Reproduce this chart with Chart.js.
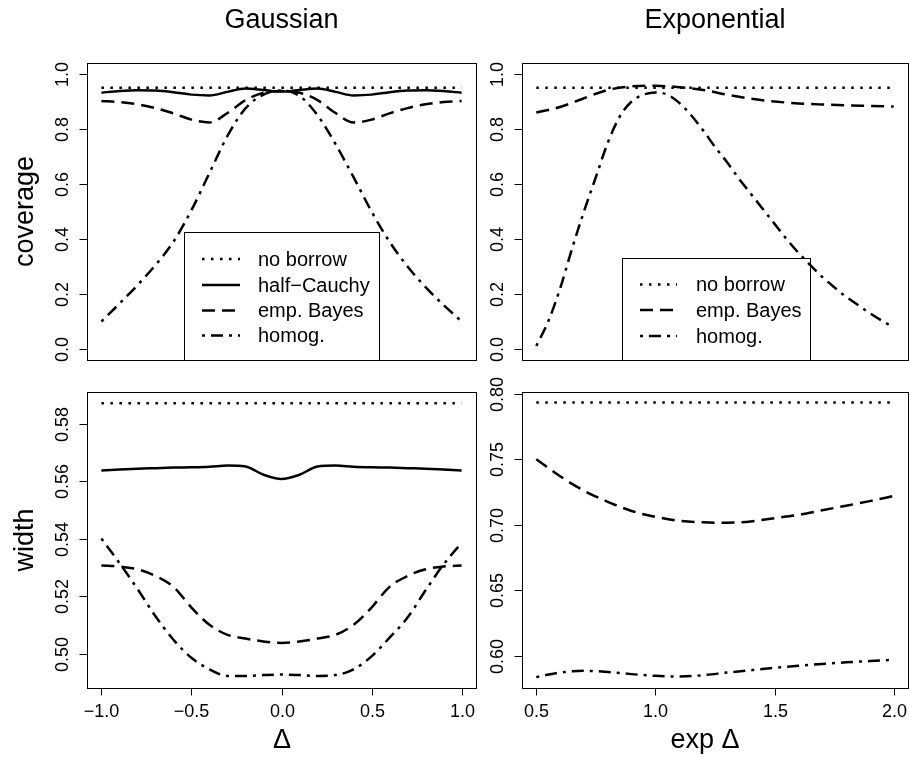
<!DOCTYPE html>
<html><head><meta charset="utf-8">
<script src="https://cdn.jsdelivr.net/npm/chart.js@4"></script>
<style>
body{margin:0;background:#fff;width:909px;height:758px;overflow:hidden;position:relative}
canvas{position:absolute;left:0;top:0}
</style></head>
<body>
<canvas id="c0" width="909" height="758"></canvas>
<canvas id="c1" width="909" height="758"></canvas>
<canvas id="c2" width="909" height="758"></canvas>
<canvas id="c3" width="909" height="758"></canvas>
<script>
// ---------- data ----------
const seriesNames = ['no borrow', 'half\u2212Cauchy', 'emp. Bayes', 'homog.'];

const xGauss = [-1,-0.9,-0.8,-0.7,-0.6,-0.5,-0.4,-0.3,-0.2,-0.1,0,0.1,0.2,0.3,0.4,0.5,0.6,0.7,0.8,0.9,1];
const xGaussEnds = [-1, 1];
const covNoBorrowGauss = [0.95, 0.95];
const covHalfCauchyGauss = [0.932,0.938,0.941,0.940,0.934,0.925,0.922,0.935,0.947,0.942,0.936,0.942,0.947,0.935,0.922,0.925,0.934,0.940,0.941,0.938,0.932];
const covEmpBayesGauss = [0.902,0.898,0.890,0.876,0.857,0.834,0.824,0.858,0.905,0.932,0.938,0.932,0.905,0.858,0.824,0.834,0.857,0.876,0.890,0.898,0.902];
const covHomogGauss = [0.10,0.165,0.232,0.305,0.39,0.505,0.64,0.775,0.875,0.925,0.94,0.92,0.85,0.745,0.625,0.50,0.39,0.30,0.225,0.16,0.10];

const xExp = [0.5,0.6,0.7,0.8,0.9,1.0,1.1,1.2,1.3,1.4,1.5,1.6,1.7,1.8,1.9,2.0];
const xExpEnds = [0.5, 2.0];
const xExpFine = [0.5,0.55,0.6,0.65,0.7,0.75,0.8,0.85,0.9,0.95,1.0,1.05,1.1,1.15,1.2,1.25,1.3,1.35,1.4,1.45,1.5,1.55,1.6,1.65,1.7,1.75,1.8,1.85,1.9,1.95,2.0];
const covNoBorrowExp = [0.95, 0.95];
const covEmpBayesExp = [0.86,0.88,0.912,0.942,0.955,0.957,0.952,0.942,0.925,0.910,0.900,0.893,0.889,0.886,0.884,0.882];
const covHomogExp = [0.011,0.10,0.22,0.365,0.50,0.625,0.75,0.845,0.90,0.925,0.933,0.925,0.895,0.85,0.795,0.735,0.68,0.62,0.565,0.51,0.455,0.40,0.35,0.305,0.262,0.225,0.19,0.16,0.13,0.103,0.078];

const widthNoBorrowGauss = [0.5871, 0.5871];
const widthHalfCauchyGauss = [0.5637,0.5640,0.5643,0.5645,0.5647,0.5648,0.5650,0.5654,0.5651,0.5622,0.5607,0.5622,0.5651,0.5654,0.5650,0.5648,0.5647,0.5645,0.5643,0.5640,0.5637];
const widthEmpBayesGauss = [0.5306,0.5303,0.5293,0.5270,0.5232,0.5160,0.5100,0.5065,0.5052,0.5042,0.5037,0.5042,0.5052,0.5065,0.5100,0.5160,0.5232,0.5270,0.5293,0.5303,0.5306];
const widthHomogGauss = [0.5400,0.5315,0.5225,0.5130,0.5048,0.4985,0.4945,0.4922,0.4922,0.4925,0.4927,0.4925,0.4922,0.4925,0.4945,0.4990,0.5055,0.5125,0.5220,0.5310,0.5385];

const widthNoBorrowExp = [0.7934, 0.7934];
const widthEmpBayesExp = [0.750,0.737,0.726,0.7175,0.7105,0.706,0.703,0.7018,0.7015,0.7025,0.705,0.7075,0.711,0.7145,0.718,0.722];
const widthHomogExp = [0.5835,0.5870,0.5883,0.5875,0.5858,0.5845,0.5840,0.5850,0.5870,0.5888,0.5906,0.5922,0.5936,0.5948,0.5958,0.5967];

const covTickValues = [0,0.2,0.4,0.6,0.8,1.0];
const covTickLabels = ['0.0','0.2','0.4','0.6','0.8','1.0'];
const widthGaussTickValues = [0.50,0.52,0.54,0.56,0.58];
const widthGaussTickLabels = ['0.50','0.52','0.54','0.56','0.58'];
const widthExpTickValues = [0.60,0.65,0.70,0.75,0.80];
const widthExpTickLabels = ['0.60','0.65','0.70','0.75','0.80'];
const gaussXTickValues = [-1,-0.5,0,0.5,1];
const gaussXTickLabels = ['\u22121.0','\u22120.5','0.0','0.5','1.0'];
const expXTickValues = [0.5,1.0,1.5,2.0];
const expXTickLabels = ['0.5','1.0','1.5','2.0'];

// ---------- styles ----------
const FONT = '"Liberation Sans", Arial, Helvetica, sans-serif';
const DASH = {
  'no borrow': [2.5, 6.5],
  'half\u2212Cauchy': [],
  'emp. Bayes': [13, 7],
  'homog.': [3, 6, 12, 6]
};
function series(xs, ys, name){
  return {
    label: name,
    data: xs.map((x,i)=>({x:x, y:ys[i]})),
    borderColor:'#000', borderWidth:2.5, borderDash: DASH[name],
    pointRadius:0, fill:false, cubicInterpolationMode:'monotone',
    borderCapStyle:'butt', borderJoinStyle:'round'
  };
}

const decor = {
  id:'decor',
  afterDraw(chart, args, o){
    const ctx = chart.ctx, ca = chart.chartArea;
    const xs = chart.scales.x, ys = chart.scales.y;
    ctx.save();
    ctx.strokeStyle = '#000'; ctx.fillStyle = '#000';
    ctx.lineWidth = 1; ctx.setLineDash([]);
    ctx.strokeRect(ca.left+0.5, ca.top+0.5, ca.right-ca.left, ca.bottom-ca.top);
    // y ticks
    ctx.font = '18px ' + FONT;
    o.yTicks.forEach((v,i)=>{
      const py = Math.round(ys.getPixelForValue(v)) + 0.5;
      ctx.beginPath(); ctx.moveTo(ca.left-7.5, py); ctx.lineTo(ca.left, py); ctx.stroke();
      ctx.save(); ctx.translate(ca.left-24.5, py); ctx.rotate(-Math.PI/2);
      ctx.textAlign='center'; ctx.textBaseline='middle';
      ctx.fillText(o.yLabels[i], 0, 1); ctx.restore();
    });
    if (o.xTicks){
      o.xTicks.forEach((v,i)=>{
        const px = Math.round(xs.getPixelForValue(v)) + 0.5;
        ctx.beginPath(); ctx.moveTo(px, ca.bottom+0.5); ctx.lineTo(px, ca.bottom+7.5); ctx.stroke();
        ctx.textAlign='center'; ctx.textBaseline='alphabetic';
        ctx.fillText(o.xLabels[i], px, 717);
      });
    }
    // titles / axis labels
    ctx.font = '27px ' + FONT;
    ctx.textAlign='center'; ctx.textBaseline='alphabetic';
    if (o.title) ctx.fillText(o.title, (ca.left+ca.right)/2, 28);
    if (o.xlab) ctx.fillText(o.xlab.text, o.xlab.x, 748);
    if (o.ylab){
      ctx.save(); ctx.translate(33, (ca.top+ca.bottom)/2); ctx.rotate(-Math.PI/2);
      ctx.fillText(o.ylab, 0, 0); ctx.restore();
    }
    // legend
    if (o.legend){
      const L = o.legend;
      ctx.lineWidth = 1; ctx.setLineDash([]);
      ctx.strokeRect(L.box[0]+0.5, L.box[1]+0.5, L.box[2]-L.box[0], L.box[3]-L.box[1]);
      ctx.font = '20px ' + FONT; ctx.textAlign='left'; ctx.textBaseline='middle';
      L.items.forEach((name,i)=>{
        const y = L.rows[i];
        ctx.lineWidth = 2.5; ctx.setLineDash(DASH[name]);
        ctx.beginPath(); ctx.moveTo(L.sx[0], y); ctx.lineTo(L.sx[1], y); ctx.stroke();
        ctx.fillText(name, L.tx, y+1);
      });
    }
    ctx.restore();
  }
};

const W = 909, H = 758;
function makePanel(id, box, xr, yr, datasets, deco){
  new Chart(document.getElementById(id), {
    type:'line',
    data:{ datasets: datasets },
    options:{
      responsive:false, animation:false, devicePixelRatio:1,
      layout:{ padding:{ left:box[0], top:box[1], right:W-box[2], bottom:H-box[3] } },
      scales:{
        x:{ type:'linear', min:xr[0], max:xr[1], display:false },
        y:{ type:'linear', min:yr[0], max:yr[1], display:false }
      },
      plugins:{ legend:{display:false}, tooltip:{enabled:false}, decor: deco }
    },
    plugins:[decor]
  });
}

makePanel('c0', [87,63,476,360], [-1.08,1.08], [-0.04,1.04], [
  series(xGaussEnds, covNoBorrowGauss, 'no borrow'),
  series(xGauss, covHalfCauchyGauss, 'half\u2212Cauchy'),
  series(xGauss, covEmpBayesGauss, 'emp. Bayes'),
  series(xGauss, covHomogGauss, 'homog.')
], { yTicks:covTickValues, yLabels:covTickLabels, title:'Gaussian', ylab:'coverage',
     legend:{ box:[184,232,379,360], sx:[202,240], tx:258, rows:[259,285,310.5,335.5],
              items:['no borrow','half\u2212Cauchy','emp. Bayes','homog.'] } });

makePanel('c1', [522,63,908,360], [0.44,2.06], [-0.04,1.04], [
  series(xExpEnds, covNoBorrowExp, 'no borrow'),
  series(xExp, covEmpBayesExp, 'emp. Bayes'),
  series(xExpFine, covHomogExp, 'homog.')
], { yTicks:covTickValues, yLabels:covTickLabels, title:'Exponential',
     legend:{ box:[622,258,810,360], sx:[640,677], tx:696, rows:[284.5,310,336],
              items:['no borrow','emp. Bayes','homog.'] } });

makePanel('c2', [87,392,476,688], [-1.08,1.08], [0.4880,0.5910], [
  series(xGaussEnds, widthNoBorrowGauss, 'no borrow'),
  series(xGauss, widthHalfCauchyGauss, 'half\u2212Cauchy'),
  series(xGauss, widthEmpBayesGauss, 'emp. Bayes'),
  series(xGauss, widthHomogGauss, 'homog.')
], { yTicks:widthGaussTickValues, yLabels:widthGaussTickLabels, ylab:'width',
     xTicks:gaussXTickValues, xLabels:gaussXTickLabels, xlab:{text:'\u0394', x:282} });

makePanel('c3', [522,392,908,688], [0.44,2.06], [0.5752,0.8014], [
  series(xExpEnds, widthNoBorrowExp, 'no borrow'),
  series(xExp, widthEmpBayesExp, 'emp. Bayes'),
  series(xExp, widthHomogExp, 'homog.')
], { yTicks:widthExpTickValues, yLabels:widthExpTickLabels,
     xTicks:expXTickValues, xLabels:expXTickLabels, xlab:{text:'exp \u0394', x:705} });
</script>
</body></html>
